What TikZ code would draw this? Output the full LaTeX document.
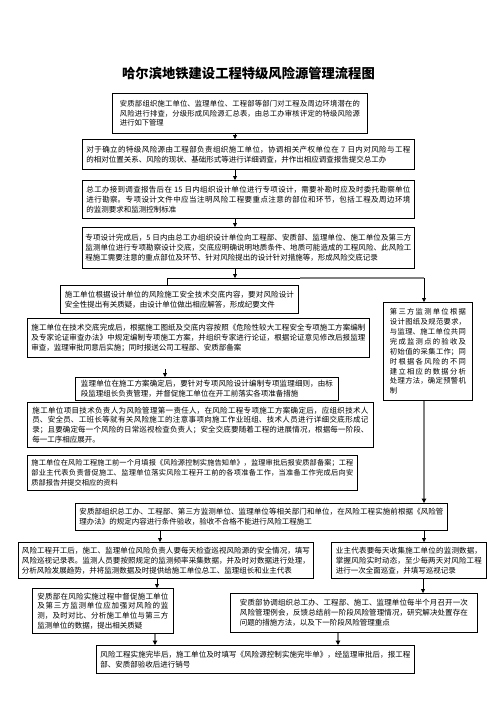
\documentclass[tikz,border=0pt]{standalone}
\usepackage{fontspec}
\setmainfont{Noto Sans CJK SC}
\usetikzlibrary{arrows.meta}
\XeTeXlinebreaklocale "zh"
\XeTeXlinebreakskip=0pt plus 0.6pt
\tolerance=1500
\setlength{\parindent}{0pt}
\tikzset{
  bx/.style={draw, line width=0.9pt, anchor=north west, align=justify, inner xsep=0pt, inner ysep=1pt, font=\fontsize{7.5}{9.8}\selectfont},
  arr/.style={line width=0.8pt, -{Triangle[length=4pt,width=4pt]}},
  plain/.style={line width=0.8pt},
  gline/.style={draw=gray, line width=1.6pt},
  garr/.style={draw=gray, line width=1.6pt, -{Triangle[length=4.5pt,width=4.5pt,color=black]}},
}
\begin{document}
\begin{tikzpicture}[x=1pt,y=-1pt]
\useasboundingbox (0,0) rectangle (496,702);
\fill[white] (0,0) rectangle (496,702);

\node[font=\fontsize{13.3}{15}\selectfont\bfseries] (title) at (248.5,73) {哈尔滨地铁建设工程特级风险源管理流程图};

\node[bx, minimum width=255, minimum height=40, text width=240, font=\fontsize{7.3}{9.6}\selectfont] (b1) at (112,93) {安质部组织施工单位、监理单位、工程部等部门对工程及周边环境潜在的\break 风险进行排查，分级形成风险源汇总表，由总工办审核评定的特级风险源\break 进行如下管理};

\node[bx, minimum width=332, minimum height=30, text width=324] (b2) at (82,139) {对于确立的特级风险源由工程部负责组织施工单位，协调相关产权单位在 7 日内对风险与工程\break 的相对位置关系、风险的现状、基础形式等进行详细调查，并作出相应调查报告提交总工办};

\node[bx, minimum width=332, minimum height=38, text width=324] (b3) at (82,180) {总工办接到调查报告后在 15 日内组织设计单位进行专项设计，需要补勘时应及时委托勘察单位\break 进行勘察。专项设计文件中应当注明风险工程要重点注意的部位和环节，包括工程及周边环境\break 的监测要求和监测控制标准};

\node[bx, minimum width=332, minimum height=41, text width=326] (b4) at (82,227) {专项设计完成后，5 日内由总工办组织设计单位向工程部、安质部、监理单位、施工单位及第三方\break 监测单位进行专项勘察设计交底，交底应明确说明地质条件、地质可能造成的工程风险、此风险工\break 程施工需要注意的重点部位及环节、针对风险提出的设计针对措施等，形成风险交底记录};

\node[bx, minimum width=238, minimum height=28, text width=229] (b5) at (60,285) {施工单位根据设计单位的风险施工安全技术交底内容，要对风险设计\break 安全性提出有关质疑，由设计单位做出相应解答，形成纪要文件};

\node[bx, minimum width=89, minimum height=98, text width=76, font=\fontsize{7.3}{9.9}\selectfont] (R) at (383,302) {第三方监测单位根据\break 设计图纸及规范要求，\break 与监理、施工单位共同\break 完成监测点的验收及\break 初始值的采集工作；同\break 时根据各风险的不同\break 建立相应的数据分析\break 处理方法，确定预警机\break 制};

\node[bx, minimum width=342, minimum height=39, text width=334] (b6) at (27,318) {施工单位在技术交底完成后，根据施工图纸及交底内容按照《危险性较大工程安全专项施工方案编制\break 及专家论证审查办法》中规定编制专项施工方案，并组织专家进行论证，根据论证意见修改后报监理\break 审查，监理审批同意后实施；同时报送公司工程部、安质部备案};

\node[bx, minimum width=263, minimum height=23, text width=252] (b7) at (75,377) {监理单位在施工方案确定后，要针对专项风险设计编制专项监理细则，由标\break 段监理组长负责管理，并督促施工单位在开工前落实各项准备措施};

\node[bx, minimum width=346, minimum height=45, text width=336] (b8) at (27,402) {施工单位项目技术负责人为风险管理第一责任人，在风险工程专项施工方案确定后，应组织技术人\break 员、安全员、工班长等就有关风险施工的注意事项向施工作业班组、技术人员进行详细交底形成记\break 录；且要确定每一个风险的日常巡视检查负责人；安全交底要随着工程的进展情况，根据每一阶段、\break 每一工序相应展开。};

\node[bx, minimum width=330, minimum height=35, text width=322, font=\fontsize{7.2}{9.8}\selectfont] (b9) at (27,455) {施工单位在风险工程施工前一个月填报《风险源控制实施告知单》，监理审批后报安质部备案；工程\break 部业主代表负责督促施工、监理单位落实风险工程开工前的各项准备工作，当准备工作完成后向安\break 质部报告并提交相应的资料};

\node[bx, minimum width=372, minimum height=27, text width=364] (b10) at (75,503) {安质部组织总工办、工程部、第三方监测单位、监理单位等相关部门和单位，在风险工程实施前根据《风险管\break 理办法》的规定内容进行条件验收，验收不合格不能进行风险工程施工};

\node[bx, minimum width=295, minimum height=36, text width=288] (b11) at (18,542) {风险工程开工后，施工、监理单位风险负责人要每天检查巡视风险源的安全情况，填写\break 风险巡视记录表。监测人员要按照规定的监测频率采集数据，并及时对数据进行处理，\break 分析风险发展趋势，并将监测数据及时提供给施工单位总工、监理组长和业主代表};

\node[bx, minimum width=155, minimum height=36, text width=146] (b12) at (331,542) {业主代表要每天收集施工单位的监测数据，\break 掌握风险实时动态，至少每两天对风险工程\break 进行一次全面巡查，并填写巡视记录};

\node[bx, minimum width=141, minimum height=45, text width=131] (b13) at (32,588) {安质部在风险实施过程中督促施工单位\break 及第三方监测单位应加强对风险的监\break 测，及时对比、分析施工单位与第三方\break 监测单位的数据，提出相关质疑};

\node[bx, minimum width=247, minimum height=39, text width=228] (b14) at (230,593) {安质部协调组织总工办、工程部、施工、监理单位每半个月召开一次\break 风险管理例会，反馈总结前一阶段风险管理情况，研究解决处置存在\break 问题的措施方法，以及下一阶段风险管理重点};

\node[bx, minimum width=318, minimum height=28, text width=310] (b15) at (96,645) {风险工程实施完毕后，施工单位及时填写《风险源控制实施完毕单》，经监理审批后，报工程\break 部、安质部验收后进行销号};

% helper coordinates
\coordinate (c235) at (235,0);
\coordinate (J) at (235,278);
\coordinate (JL) at (167,278);
\coordinate (JG) at (300,278);
\coordinate (JR) at (424,278);
\coordinate (s7) at (165,369);
\coordinate (c160) at (160,0);
\coordinate (c157) at (157,0);
\coordinate (c423) at (423,0);
\coordinate (c155) at (155,0);
\coordinate (c338) at (338,0);

\draw[arr] (b1.south -| c235) -- (b2.north -| c235);
\draw[arr] (b2.south -| c235) -- (b3.north -| c235);
\draw[arr] (b3.south -| c235) -- (b4.north -| c235);
\draw[arr] (b4.south -| J) -- (J);
\draw[plain] (JL) -- (JG);
\draw[gline] (JG) -- (JR);
\draw[plain] (JL) -- (b5.north -| JL);
\draw[arr] (JR) -- (R.north -| JR);
\draw[arr] (s7) -- (b7.north -| s7);
\draw[garr] (R.south -| JR) -- (b10.north -| JR);
\draw[arr] (b10.south -| c160) -- (b11.north -| c160);
\draw[arr] (b10.south -| JR) -- (b12.north -| JR);
\draw[arr] (b11.south -| c157) -- (b13.north -| c157);
\draw[arr] (b12.south -| c423) -- (b14.north -| c423);
\draw[garr] (b13.south -| c155) -- (b15.north -| c155);
\draw[garr] (b14.south -| c338) -- (b15.north -| c338);
\end{tikzpicture}
\end{document}
